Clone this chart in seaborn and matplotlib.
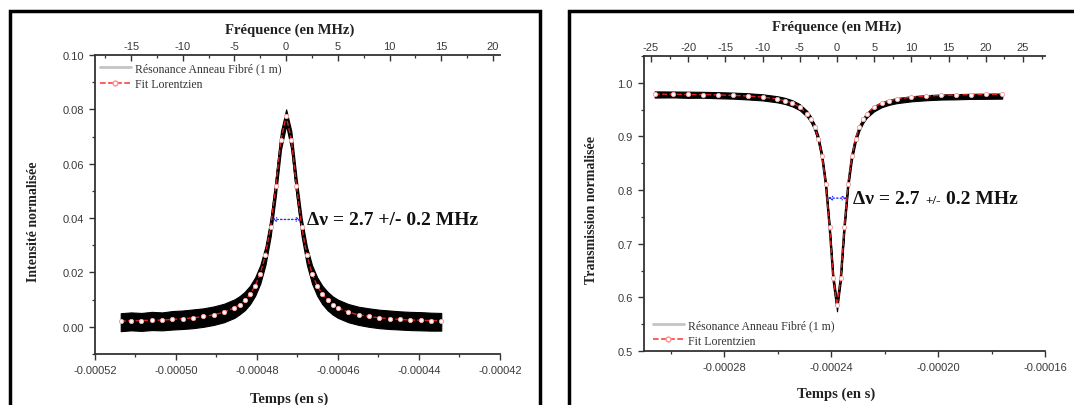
import numpy as np
import pandas as pd
import matplotlib
matplotlib.use("Agg")
import matplotlib.pyplot as plt
import seaborn as sns
from matplotlib.ticker import MultipleLocator, FormatStrFormatter
from matplotlib.offsetbox import TextArea, HPacker, AnnotationBbox
from matplotlib.lines import Line2D
from matplotlib.patches import Rectangle

# ---------------- data ----------------
# Left panel: resonance intensity (frequency offset in MHz, read on the top axis)
freq_L = [-16, -15, -14, -13, -12, -11, -10, -9, -8, -7, -6, -5,
          -4.5, -4, -3.5, -3, -2.5, -2, -1.5, -1, -0.5, 0, 0.5, 1, 1.5, 2, 2.5, 3, 3.5, 4, 4.5,
          5, 6, 7, 8, 9, 10, 11, 12, 13, 14, 15]
fit_L = [0.0021, 0.0022, 0.0023, 0.0024, 0.0025, 0.0027, 0.0030, 0.0033, 0.0038, 0.0044, 0.0054, 0.0070,
         0.0082, 0.0098, 0.0120, 0.0151, 0.0196, 0.0265, 0.0369, 0.0518, 0.0689, 0.0775, 0.0689, 0.0518,
         0.0369, 0.0265, 0.0196, 0.0151, 0.0120, 0.0098, 0.0082,
         0.0070, 0.0054, 0.0044, 0.0038, 0.0033, 0.0030, 0.0027, 0.0025, 0.0024, 0.0023, 0.0022]
data_lo_L = [-0.0016, -0.0013, -0.0015, -0.0012, -0.0013, -0.0010, -0.0008, -0.0005, 0.0000, 0.0007, 0.0017, 0.0033,
             0.0046, 0.0061, 0.0083, 0.0114, 0.0159, 0.0228, 0.0332, 0.0481, 0.0652, 0.0741, 0.0652, 0.0481,
             0.0332, 0.0228, 0.0159, 0.0114, 0.0083, 0.0061, 0.0045,
             0.0033, 0.0017, 0.0007, 0.0000, -0.0005, -0.0008, -0.0010, -0.0012, -0.0013, -0.0014, -0.0014]
data_hi_L = [0.0050, 0.0053, 0.0051, 0.0055, 0.0053, 0.0058, 0.0060, 0.0064, 0.0068, 0.0075, 0.0085, 0.0101,
             0.0113, 0.0129, 0.0151, 0.0182, 0.0227, 0.0296, 0.0400, 0.0549, 0.0720, 0.0800, 0.0720, 0.0549,
             0.0400, 0.0296, 0.0227, 0.0182, 0.0151, 0.0129, 0.0112,
             0.0100, 0.0084, 0.0074, 0.0068, 0.0063, 0.0060, 0.0057, 0.0055, 0.0054, 0.0052, 0.0051]

# Right panel: transmission dip
freq_R = [-24.5, -22, -20, -18, -16, -14, -12, -10, -8, -7, -6, -5,
          -4, -3.5, -3, -2.5, -2, -1.5, -1, -0.5, 0, 0.5, 1, 1.5, 2, 2.5, 3, 3.5, 4,
          5, 6, 7, 8, 10, 12, 14, 16, 18, 20, 22.2]
fit_R = [0.9789, 0.9786, 0.9783, 0.9780, 0.9774, 0.9766, 0.9754, 0.9734, 0.9698, 0.9668, 0.9623, 0.9550,
         0.9423, 0.9321, 0.9175, 0.8959, 0.8627, 0.8105, 0.7320, 0.6360, 0.5850, 0.6360, 0.7320, 0.8105,
         0.8627, 0.8959, 0.9175, 0.9321, 0.9423,
         0.9550, 0.9623, 0.9668, 0.9698, 0.9734, 0.9754, 0.9766, 0.9774, 0.9780, 0.9783, 0.9786]
data_lo_R = [0.9725, 0.9728, 0.9720, 0.9722, 0.9712, 0.9705, 0.9690, 0.9672, 0.9635, 0.9605, 0.9560, 0.9488,
             0.9360, 0.9258, 0.9110, 0.8890, 0.8560, 0.8040, 0.7250, 0.6280, 0.5740, 0.6290, 0.7260, 0.8040,
             0.8560, 0.8890, 0.9105, 0.9250, 0.9350,
             0.9470, 0.9545, 0.9590, 0.9620, 0.9655, 0.9675, 0.9688, 0.9692, 0.9700, 0.9702, 0.9705]
data_hi_R = [0.9840, 0.9838, 0.9835, 0.9832, 0.9826, 0.9818, 0.9806, 0.9786, 0.9750, 0.9720, 0.9675, 0.9602,
             0.9475, 0.9372, 0.9225, 0.9010, 0.8680, 0.8160, 0.7380, 0.6420, 0.5920, 0.6420, 0.7380, 0.8160,
             0.8680, 0.9005, 0.9200, 0.9340, 0.9440,
             0.9570, 0.9640, 0.9685, 0.9715, 0.9750, 0.9770, 0.9782, 0.9790, 0.9795, 0.9798, 0.9800]

# axis relation time <-> frequency (centre time in s, seconds per MHz)
tc_L, k_L = -0.0004728, 2.553e-6
tc_R, k_R = -0.0002378, 2.784e-6

label_data = "Résonance Anneau Fibré (1 m)"
label_fit = "Fit Lorentzien"
top_label = "Fréquence (en MHz)"
bottom_label = "Temps (en s)"
ylabel_L = "Intensité normalisée"
ylabel_R = "Transmission normalisée"

# ---------------- style ----------------
sns.set_theme(style="ticks")
plt.rcParams["font.family"] = ["Liberation Sans", "DejaVu Sans"]
SERIF = "Liberation Serif"
TXT = "#222222"
TICKC = "#3a3a3a"

fig = plt.figure(figsize=(10.74, 4.06), dpi=100)
axL = fig.add_axes([95 / 1074, 51 / 406, 405 / 1074, 299 / 406])
axR = fig.add_axes([644 / 1074, 54 / 406, 401 / 1074, 295 / 406])


def draw_panel(ax, freq, fit, lo, hi, tc, k):
    f = np.asarray(freq, dtype=float)
    df = pd.DataFrame({"t": tc + f * k, "fit": fit, "lo": lo, "hi": hi})
    df["mid"] = (df["lo"] + df["hi"]) / 2
    ax.fill_between(df["t"], df["lo"], df["hi"], color="black", edgecolor="black", lw=0.8, zorder=2)
    sns.lineplot(data=df, x="t", y="mid", color="black", lw=1.6, ax=ax, zorder=3)
    sns.lineplot(data=df, x="t", y="fit", color="#e02020", lw=1.0, linestyle="--",
                 marker="o", markersize=3.0, markerfacecolor="white",
                 markeredgecolor="#f4a0a0", markeredgewidth=0.7, ax=ax, zorder=4)


draw_panel(axL, freq_L, fit_L, data_lo_L, data_hi_L, tc_L, k_L)
draw_panel(axR, freq_R, fit_R, data_lo_R, data_hi_R, tc_R, k_R)


def style_axes(ax, tc, k, xlim, ylim, xmaj, xmin, ymaj, ymin, yfmt, ylabel, ylab_xy, xlab_y, toplab_y):
    ax.set_xlim(*xlim)
    ax.set_ylim(*ylim)
    ax.xaxis.set_major_locator(MultipleLocator(xmaj))
    ax.xaxis.set_minor_locator(MultipleLocator(xmin))
    ax.xaxis.set_major_formatter(FormatStrFormatter("%.5f"))
    ax.yaxis.set_major_locator(MultipleLocator(ymaj))
    ax.yaxis.set_minor_locator(MultipleLocator(ymin))
    ax.yaxis.set_major_formatter(FormatStrFormatter(yfmt))
    for s in ["top", "right"]:
        ax.spines[s].set_visible(False)
    for s in ["left", "bottom"]:
        ax.spines[s].set_color("#333333")
        ax.spines[s].set_linewidth(1.3)
    ax.tick_params(which="major", direction="out", length=4, width=1.0, color="#333333",
                   labelsize=8, labelcolor=TICKC, pad=4)
    ax.tick_params(which="minor", direction="out", length=2.5, width=0.9, color="#333333")
    ax.tick_params(which="both", top=False, right=False)
    ax.set_xlabel(bottom_label, family=SERIF, weight="bold", size=10.5, color=TXT)
    ax.set_ylabel(ylabel, family=SERIF, weight="bold", size=10, color=TXT)
    ax.xaxis.set_label_coords(0.48, xlab_y)
    ax.yaxis.set_label_coords(*ylab_xy)
    ax.grid(False)

    sec = ax.secondary_xaxis("top", functions=(lambda t, tc=tc, k=k: (t - tc) / k,
                                                lambda f, tc=tc, k=k: tc + f * k))
    sec.xaxis.set_major_locator(MultipleLocator(5))
    sec.xaxis.set_minor_locator(MultipleLocator(2.5))
    sec.xaxis.set_major_formatter(FormatStrFormatter("%d"))
    sec.tick_params(which="major", direction="in", length=4, width=1.0, color="#333333",
                    labelsize=8, labelcolor=TICKC, pad=3)
    sec.tick_params(which="minor", direction="in", length=2.5, width=0.9, color="#333333")
    sec.spines["top"].set_color("#333333")
    sec.spines["top"].set_linewidth(1.3)
    ax.text(0.48, toplab_y, top_label, transform=ax.transAxes, ha="center", va="center",
            family=SERIF, weight="bold", size=10.5, color=TXT)
    return sec


style_axes(axL, tc_L, k_L, (-0.00052, -0.00042), (-0.01, 0.10), 0.00002, 0.00001, 0.02, 0.01,
           "%.2f", ylabel_L, (-0.135, 0.445), -0.125, 1.087)
style_axes(axR, tc_R, k_R, (-0.00031, -0.00016), (0.5, 1.05), 0.00004, 0.00002, 0.1, 0.05,
           "%.1f", ylabel_R, (-0.115, 0.48), -0.12, 1.10)

# legends
h_data = Line2D([], [], color="#c4c4c4", lw=2)
h_fit = Line2D([], [], color="#ff3030", lw=1.1, ls="--", marker="o", mfc="white", mec="#ff9090", ms=3.5)
for ax, loc, anchor in [(axL, "upper left", (0.012, 0.975)), (axR, "lower left", (0.022, 0.015))]:
    leg = ax.legend([h_data, h_fit], [label_data, label_fit], loc=loc, bbox_to_anchor=anchor,
                    frameon=False, prop={"family": SERIF, "size": 8.5}, handlelength=2.6,
                    handletextpad=0.35, labelspacing=0.3, borderaxespad=0, borderpad=0)
    for t in leg.get_texts():
        t.set_color("#333333")

# FWHM annotations
for ax, tc, k, yv, f1, f2 in [(axL, tc_L, k_L, 0.0395, -1.4, 1.45),
                              (axR, tc_R, k_R, 0.785, -1.25, 1.35)]:
    ax.annotate("", xy=(tc + f2 * k, yv), xytext=(tc + f1 * k, yv),
                arrowprops=dict(arrowstyle="<->", color="#2030ff", lw=1.0, ls=":",
                                shrinkA=0, shrinkB=0, mutation_scale=6), zorder=6)

big = dict(family=SERIF, weight="bold", size=14, color="#111111")
small = dict(family=SERIF, weight="bold", size=9.5, color="#111111")
packL = HPacker(children=[TextArea("Δν = 2.7 +/- 0.2 MHz", textprops=big)], align="baseline", pad=0, sep=0)
abL = AnnotationBbox(packL, (tc_L + 2.0 * k_L, 0.0395), xycoords="data", box_alignment=(0, 0.5),
                     frameon=False, pad=0, zorder=7)
axL.add_artist(abL)
packR = HPacker(children=[TextArea("Δν = 2.7", textprops=big), TextArea("+/-", textprops=small),
                          TextArea("0.2 MHz", textprops=big)], align="baseline", pad=0, sep=4)
abR = AnnotationBbox(packR, (tc_R + 2.15 * k_R, 0.785), xycoords="data", box_alignment=(0, 0.5),
                     frameon=False, pad=0, zorder=7)
axR.add_artist(abR)

# panel borders
fig.add_artist(Rectangle((10 / 1074, -0.1), 530 / 1074, (406 - 12) / 406 + 0.1,
                         transform=fig.transFigure, fill=False, ec="black", lw=2.5))
fig.add_artist(Rectangle((569 / 1074, -0.1), 0.6, (406 - 12) / 406 + 0.1,
                         transform=fig.transFigure, fill=False, ec="black", lw=2.5))

fig.savefig("out.png", dpi=100, facecolor="white")
